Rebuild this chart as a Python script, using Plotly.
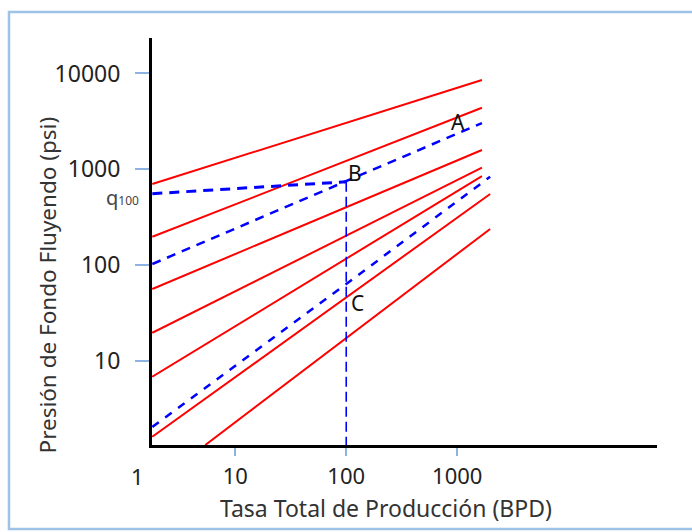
import math
import plotly.graph_objects as go

# ---------------- data ----------------
# x = Tasa Total de Producción (BPD), y = Presión de Fondo Fluyendo (psi)
red1_x = [1.79, 100, 1670]
red1_y = [701, 3058, 8531]
red2_x = [1.79, 100, 1670]
red2_y = [197, 1224, 4385]
red3_x = [1.79, 100, 1670]
red3_y = [56.2, 401, 1586]
red4_x = [1.79, 100, 1670]
red4_y = [19.6, 201, 1037]
red5_x = [1.79, 100, 1670]
red5_y = [6.82, 117.5, 849]
red6_x = [1.79, 100, 1980]
red6_y = [1.61, 46.4, 551]
red7_x = [5.37, 100, 1980]
red7_y = [1.32, 17.3, 238]

blueA_x = [1.79, 100, 1670]
blueA_y = [102.4, 753, 3034]
blue_low_x = [1.79, 100, 1980]
blue_low_y = [2.04, 63.3, 835]
q100_x = [1.79, 100]
q100_y = [555, 740]
vert_x = [100, 100]
vert_y = [740, 1.32]

x_tickvals = [10, 100, 1000]
x_ticktext = ["10", "100", "1000"]
y_tickvals = [10, 100, 1000, 10000]
y_ticktext = ["10", "100", "1000", "10000"]

point_labels = ["A", "B", "C"]
point_x = [1020, 120.6, 125.6]
point_y = [3110, 912, 40.1]

x_title = "Tasa Total de Producción (BPD)"
y_title = "Presión de Fondo Fluyendo (psi)"

# ---------------- figure ----------------
FONT = "Noto Sans"
RED = "#FF0000"
BLUE = "#0000FF"
TICKC = "#8DB3E2"

fig = go.Figure()

for xs, ys in [(red1_x, red1_y), (red2_x, red2_y), (red3_x, red3_y),
               (red4_x, red4_y), (red5_x, red5_y), (red6_x, red6_y),
               (red7_x, red7_y)]:
    fig.add_trace(go.Scatter(x=xs, y=ys, mode="lines",
                             line=dict(color=RED, width=2), hoverinfo="skip"))

fig.add_trace(go.Scatter(x=blueA_x, y=blueA_y, mode="lines",
                         line=dict(color=BLUE, width=2.5, dash="9px,7px")))
fig.add_trace(go.Scatter(x=blue_low_x, y=blue_low_y, mode="lines",
                         line=dict(color=BLUE, width=2.5, dash="8px,8px")))
fig.add_trace(go.Scatter(x=q100_x, y=q100_y, mode="lines",
                         line=dict(color=BLUE, width=3, dash="10px,7px")))
fig.add_trace(go.Scatter(x=vert_x, y=vert_y, mode="lines",
                         line=dict(color=BLUE, width=1.6, dash="10px,5px")))

annotations = []
for t, xv, yv in zip(point_labels, point_x, point_y):
    # annotation positions on log axes are given in log10 units
    annotations.append(dict(x=math.log10(xv), y=math.log10(yv), xref="x", yref="y",
                            text=t, showarrow=False, xanchor="center",
                            yanchor="middle",
                            font=dict(family=FONT, size=21, color="#111")))

annotations += [
    dict(x=-0.0594, y=0.6069, xref="paper", yref="paper",
         text='q<span style="font-size:12px">100</span>', showarrow=False,
         xanchor="center", yanchor="middle",
         font=dict(family=FONT, size=20, color="#444")),
    dict(x=-0.0287, y=-0.077, xref="paper", yref="paper", text="1",
         showarrow=False, xanchor="center", yanchor="middle",
         font=dict(family=FONT, size=22, color="#222")),
    dict(x=0.4634, y=-0.1545, xref="paper", yref="paper", text=x_title,
         showarrow=False, xanchor="center", yanchor="middle",
         font=dict(family=FONT, size=23, color="#333")),
    dict(x=-0.2079, y=0.392, xref="paper", yref="paper", text=y_title,
         textangle=-90, showarrow=False, xanchor="center", yanchor="middle",
         font=dict(family=FONT, size=22.5, color="#333")),
]

fig.update_layout(
    width=692, height=532,
    margin=dict(l=152, r=35, t=38, b=87),
    paper_bgcolor="white", plot_bgcolor="white",
    showlegend=False,
    annotations=annotations,
    shapes=[dict(type="rect", xref="paper", yref="paper",
                 x0=-0.2832, x1=1.08, y0=-0.2064, y1=1.0639,
                 line=dict(color="#9DC3E6", width=2.5), layer="below")],
    xaxis=dict(type="log", range=[0.25, 4.80], showgrid=False, zeroline=False,
               showline=True, linecolor="black", linewidth=3,
               tickvals=x_tickvals, ticktext=x_ticktext,
               ticks="outside", ticklen=8, tickwidth=1.5, tickcolor=TICKC,
               ticklabelstandoff=2,
               tickfont=dict(family=FONT, size=22, color="#222")),
    xaxis2=dict(type="log", range=[0.25, 4.80], overlaying="x", anchor="y",
                side="bottom", showgrid=False, zeroline=False, showline=False,
                tickvals=x_tickvals, ticks="inside", ticklen=6, tickwidth=1.5,
                tickcolor=TICKC, showticklabels=False),
    yaxis=dict(type="log", range=[0.121, 4.37], showgrid=False, zeroline=False,
               showline=True, linecolor="black", linewidth=3,
               tickvals=y_tickvals, ticktext=y_ticktext,
               ticks="outside", ticklen=14, tickwidth=1.5, tickcolor=TICKC,
               ticklabelstandoff=10,
               tickfont=dict(family=FONT, size=23, color="#222")),
)

fig.write_html("out.html")
